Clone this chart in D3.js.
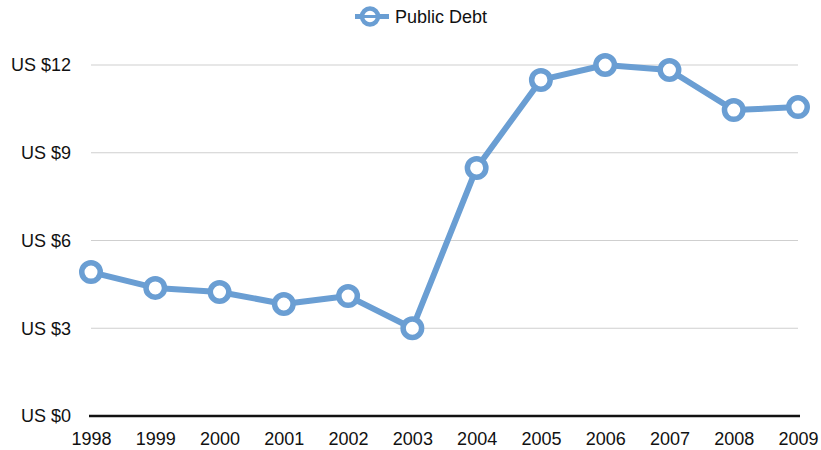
<!DOCTYPE html>
<html>
<head>
<meta charset="utf-8">
<script src="https://cdn.jsdelivr.net/npm/d3@7"></script>
<style>
  html, body { margin: 0; padding: 0; background: #fff; }
  svg { display: block; font-family: "Liberation Sans", Arial, Helvetica, sans-serif; }
</style>
</head>
<body>
<svg id="chart" width="821" height="450"></svg>
<script>
// Public debt by year (US $)
const years = ["1998", "1999", "2000", "2001", "2002", "2003", "2004", "2005", "2006", "2007", "2008", "2009"];
const debt = [4.92, 4.38, 4.24, 3.83, 4.10, 3.0, 8.48, 11.49, 12.0, 11.83, 10.46, 10.56];
const yTicks = [0, 3, 6, 9, 12];
const seriesName = "Public Debt";

const color = "#6a9ed3";
const fontSize = 18;
const svg = d3.select("#chart");

const x = d3.scalePoint().domain(years).range([91, 798]);
const y = d3.scaleLinear().domain([0, 12]).range([416, 65]);

// horizontal gridlines
svg.append("g")
  .selectAll("line")
  .data(yTicks.filter(d => d > 0))
  .join("line")
  .attr("x1", 91).attr("x2", 798)
  .attr("y1", d => y(d)).attr("y2", d => y(d))
  .attr("stroke", "#cfcfcf").attr("stroke-width", 1);

// y axis labels
const yAxis = d3.axisLeft(y).tickValues(yTicks).tickSize(0).tickPadding(0)
  .tickFormat(d => "US $" + d);
svg.append("g")
  .attr("transform", "translate(71,0)")
  .call(yAxis)
  .call(g => g.select(".domain").remove())
  .call(g => g.selectAll("text")
    .attr("font-size", fontSize).attr("fill", "#111")
    .attr("font-family", "Liberation Sans, Arial, sans-serif"));

// baseline
svg.append("line")
  .attr("x1", 89).attr("x2", 800)
  .attr("y1", y(0)).attr("y2", y(0))
  .attr("stroke", "#111").attr("stroke-width", 2.5);

// x axis labels
const xAxis = d3.axisBottom(x).tickSize(0).tickPadding(0);
svg.append("g")
  .attr("transform", "translate(0,432)")
  .call(xAxis)
  .call(g => g.select(".domain").remove())
  .call(g => g.selectAll("text")
    .attr("font-size", fontSize).attr("fill", "#111")
    .attr("font-family", "Liberation Sans, Arial, sans-serif"));

// series line
const line = d3.line()
  .x((d, i) => x(years[i]))
  .y(d => y(d));
svg.append("path")
  .datum(debt)
  .attr("d", line)
  .attr("fill", "none")
  .attr("stroke", color)
  .attr("stroke-width", 6)
  .attr("stroke-linejoin", "round");

// point markers
svg.append("g")
  .selectAll("circle")
  .data(debt)
  .join("circle")
  .attr("cx", (d, i) => x(years[i]))
  .attr("cy", d => y(d))
  .attr("r", 9.25)
  .attr("fill", "#fff")
  .attr("stroke", color)
  .attr("stroke-width", 5.5);

// legend
const lg = svg.append("g").attr("transform", "translate(355,16.5)");
lg.append("line").attr("x1", 0).attr("x2", 34).attr("y1", 0).attr("y2", 0)
  .attr("stroke", color).attr("stroke-width", 5);
lg.append("circle").attr("cx", 15).attr("cy", 0).attr("r", 8)
  .attr("fill", "#fff").attr("stroke", color).attr("stroke-width", 4.5);
lg.append("line").attr("x1", 7).attr("x2", 23).attr("y1", 0).attr("y2", 0)
  .attr("stroke", color).attr("stroke-width", 3);
lg.append("text").attr("x", 40).attr("y", 6.5)
  .attr("font-size", fontSize).attr("fill", "#111")
  .text(seriesName);
</script>
</body>
</html>
